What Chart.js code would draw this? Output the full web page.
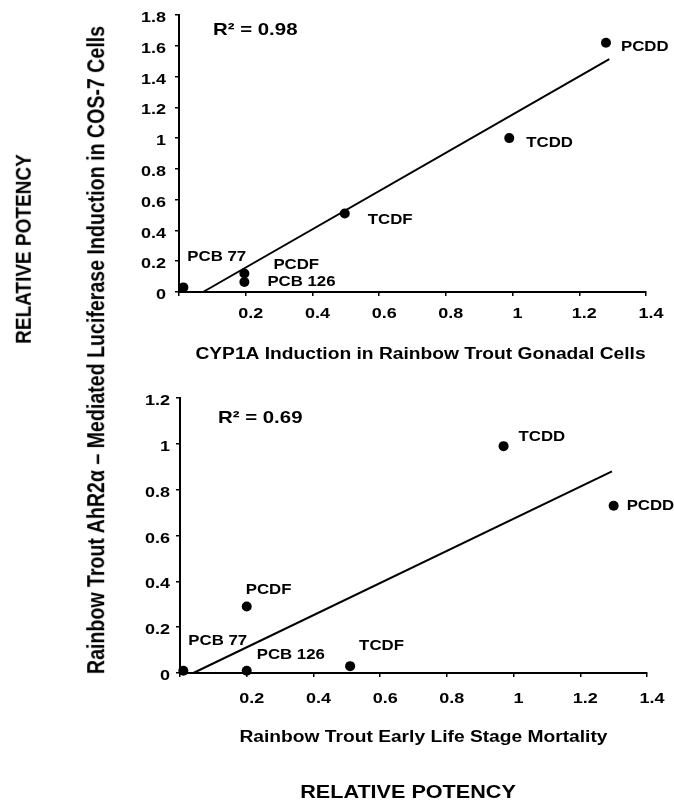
<!DOCTYPE html>
<html>
<head>
<meta charset="utf-8">
<script src="https://cdn.jsdelivr.net/npm/chart.js@4"></script>
<style>
  body { margin: 0; background: #fff; }
  #wrap { position: relative; width: 674px; height: 804px; }
  canvas { position: absolute; left: 0; }
  .vlabel {
    position: absolute;
    white-space: nowrap;
    font-family: "Liberation Sans", Arial, sans-serif;
    font-weight: bold;
    color: #000;
    transform: translate(-50%, -50%) rotate(-90deg) scaleY(1.2);
  }
</style>
</head>
<body>
<div id="wrap">
  <canvas id="topChart" width="674" height="380" style="top:0"></canvas>
  <canvas id="bottomChart" width="674" height="424" style="top:380px"></canvas>
  <div class="vlabel" style="left:24px; top:249px; font-size:19px;">RELATIVE POTENCY</div>
  <div class="vlabel" style="left:96px; top:350px; font-size:19.6px;">Rainbow Trout AhR2α – Mediated Luciferase Induction in COS-7 Cells</div>
</div>
<script>
// compounds, same order in both panels
const compounds = ["PCB 77", "PCB 126", "PCDF", "TCDF", "TCDD", "PCDD"];

// top panel: CYP1A induction (x) vs luciferase induction (y)
const cyp1aX = [0.013, 0.196, 0.196, 0.497, 0.99, 1.28];
const lucTopY = [0.03, 0.065, 0.12, 0.51, 1.0, 1.62];
const topFitX = [0.072, 1.29];
const topFitY = [0, 1.514];

// bottom panel: early life stage mortality (x) vs luciferase induction (y)
const elsX = [0.01, 0.2, 0.2, 0.51, 0.97, 1.30];
const lucBottomY = [0.01, 0.01, 0.29, 0.03, 0.99, 0.73];
const bottomFitX = [0.04, 1.295];
const bottomFitY = [0, 0.88];

// label offsets in px from each point (style only)
const topLabelOffsets = [[4, -30], [23, 0], [29, -8], [23, 7], [17, 5], [15, 4]];
const bottomLabelOffsets = [[5, -30], [10, -16], [-1, -16], [9, -20], [15, -9], [13, 0]];

const FONT = '"Liberation Sans", Arial, sans-serif';

function stretchText(ctx, text, x, y, size, align) {
    ctx.save();
    ctx.font = 'bold ' + size + 'px ' + FONT;
    ctx.fillStyle = '#000';
    ctx.textBaseline = 'middle';
    ctx.textAlign = align;
    ctx.translate(x, y);
    ctx.scale(1.2, 1);
    ctx.fillText(text, 0, 0);
    ctx.restore();
}

function toPoints(xs, ys) {
    return xs.map((x, i) => ({ x: x, y: ys[i] }));
}

// draws tick labels, point labels and titles
const textPlugin = {
    id: 'texts',
    afterDraw(chart) {
        const o = chart.options.plugins.texts;
        const ctx = chart.ctx;
        const area = chart.chartArea;
        const xs = chart.scales.x, ys = chart.scales.y;

        xs.ticks.forEach(t => {
            if (t.value === 0) return;
            stretchText(ctx, String(+t.value.toFixed(1)), xs.getPixelForValue(t.value) + 5,
                area.bottom + o.xTickDy, 15, 'center');
        });
        ys.ticks.forEach(t => {
            stretchText(ctx, String(+t.value.toFixed(1)), area.left - o.yTickDx,
                ys.getPixelForValue(t.value) + 3, 15, 'right');
        });

        o.names.forEach((name, i) => {
            const px = xs.getPixelForValue(o.xv[i]);
            const py = ys.getPixelForValue(o.yv[i]);
            stretchText(ctx, name, px + o.offsets[i][0], py + o.offsets[i][1], 14, 'left');
        });

        stretchText(ctx, o.r2, area.left + o.r2Pos[0], area.top + o.r2Pos[1], 17, 'left');
        stretchText(ctx, o.title, (area.left + area.right) / 2 + o.titlePos[0],
            area.bottom + o.titlePos[1], 16, 'center');
        if (o.footer) {
            stretchText(ctx, o.footer, 408, chart.height - 11, 18, 'center');
        }
    }
};

function makeChart(id, xv, yv, fitX, fitY, yMax, pad, texts) {
    const ctx = document.getElementById(id).getContext('2d');
    texts.names = compounds;
    texts.xv = xv;
    texts.yv = yv;
    return new Chart(ctx, {
        type: 'scatter',
        data: {
            datasets: [{
                data: toPoints(xv, yv),
                pointRadius: 5,
                pointBackgroundColor: '#000',
                pointBorderWidth: 0,
                clip: false
            }, {
                type: 'line',
                data: toPoints(fitX, fitY),
                borderColor: '#000',
                borderWidth: 2,
                pointRadius: 0,
                fill: false,
                clip: false
            }]
        },
        options: {
            responsive: false,
            animation: false,
            layout: { padding: pad },
            plugins: {
                legend: { display: false },
                tooltip: { enabled: false },
                texts: texts
            },
            scales: {
                x: {
                    type: 'linear',
                    min: 0,
                    max: 1.4,
                    ticks: { stepSize: 0.2, display: false },
                    grid: { drawOnChartArea: false, color: '#000', lineWidth: 1.5, tickLength: 4 },
                    border: { color: '#000', width: 2 },
                    afterFit(s) { s.height = 10; }
                },
                y: {
                    min: 0,
                    max: yMax,
                    ticks: { stepSize: 0.2, display: false },
                    grid: { drawOnChartArea: false, color: '#000', lineWidth: 1.5, tickLength: 4 },
                    border: { color: '#000', width: 2 },
                    afterFit(s) { s.width = 10; }
                }
            }
        },
        plugins: [textPlugin]
    });
}

makeChart('topChart', cyp1aX, lucTopY, topFitX, topFitY, 1.8,
    { left: 169, right: 28, top: 15, bottom: 78 },
    {
        offsets: topLabelOffsets,
        xTickDy: 22, yTickDx: 13,
        r2: 'R² = 0.98', r2Pos: [34, 15],
        title: 'CYP1A Induction in Rainbow Trout Gonadal Cells', titlePos: [8, 63]
    });

makeChart('bottomChart', elsX, lucBottomY, bottomFitX, bottomFitY, 1.2,
    { left: 170, right: 27, top: 18, bottom: 121 },
    {
        offsets: bottomLabelOffsets,
        xTickDy: 26, yTickDx: 10,
        r2: 'R² = 0.69', r2Pos: [38, 20],
        title: 'Rainbow Trout Early Life Stage Mortality', titlePos: [10, 65],
        footer: 'RELATIVE POTENCY'
    });
</script>
</body>
</html>
